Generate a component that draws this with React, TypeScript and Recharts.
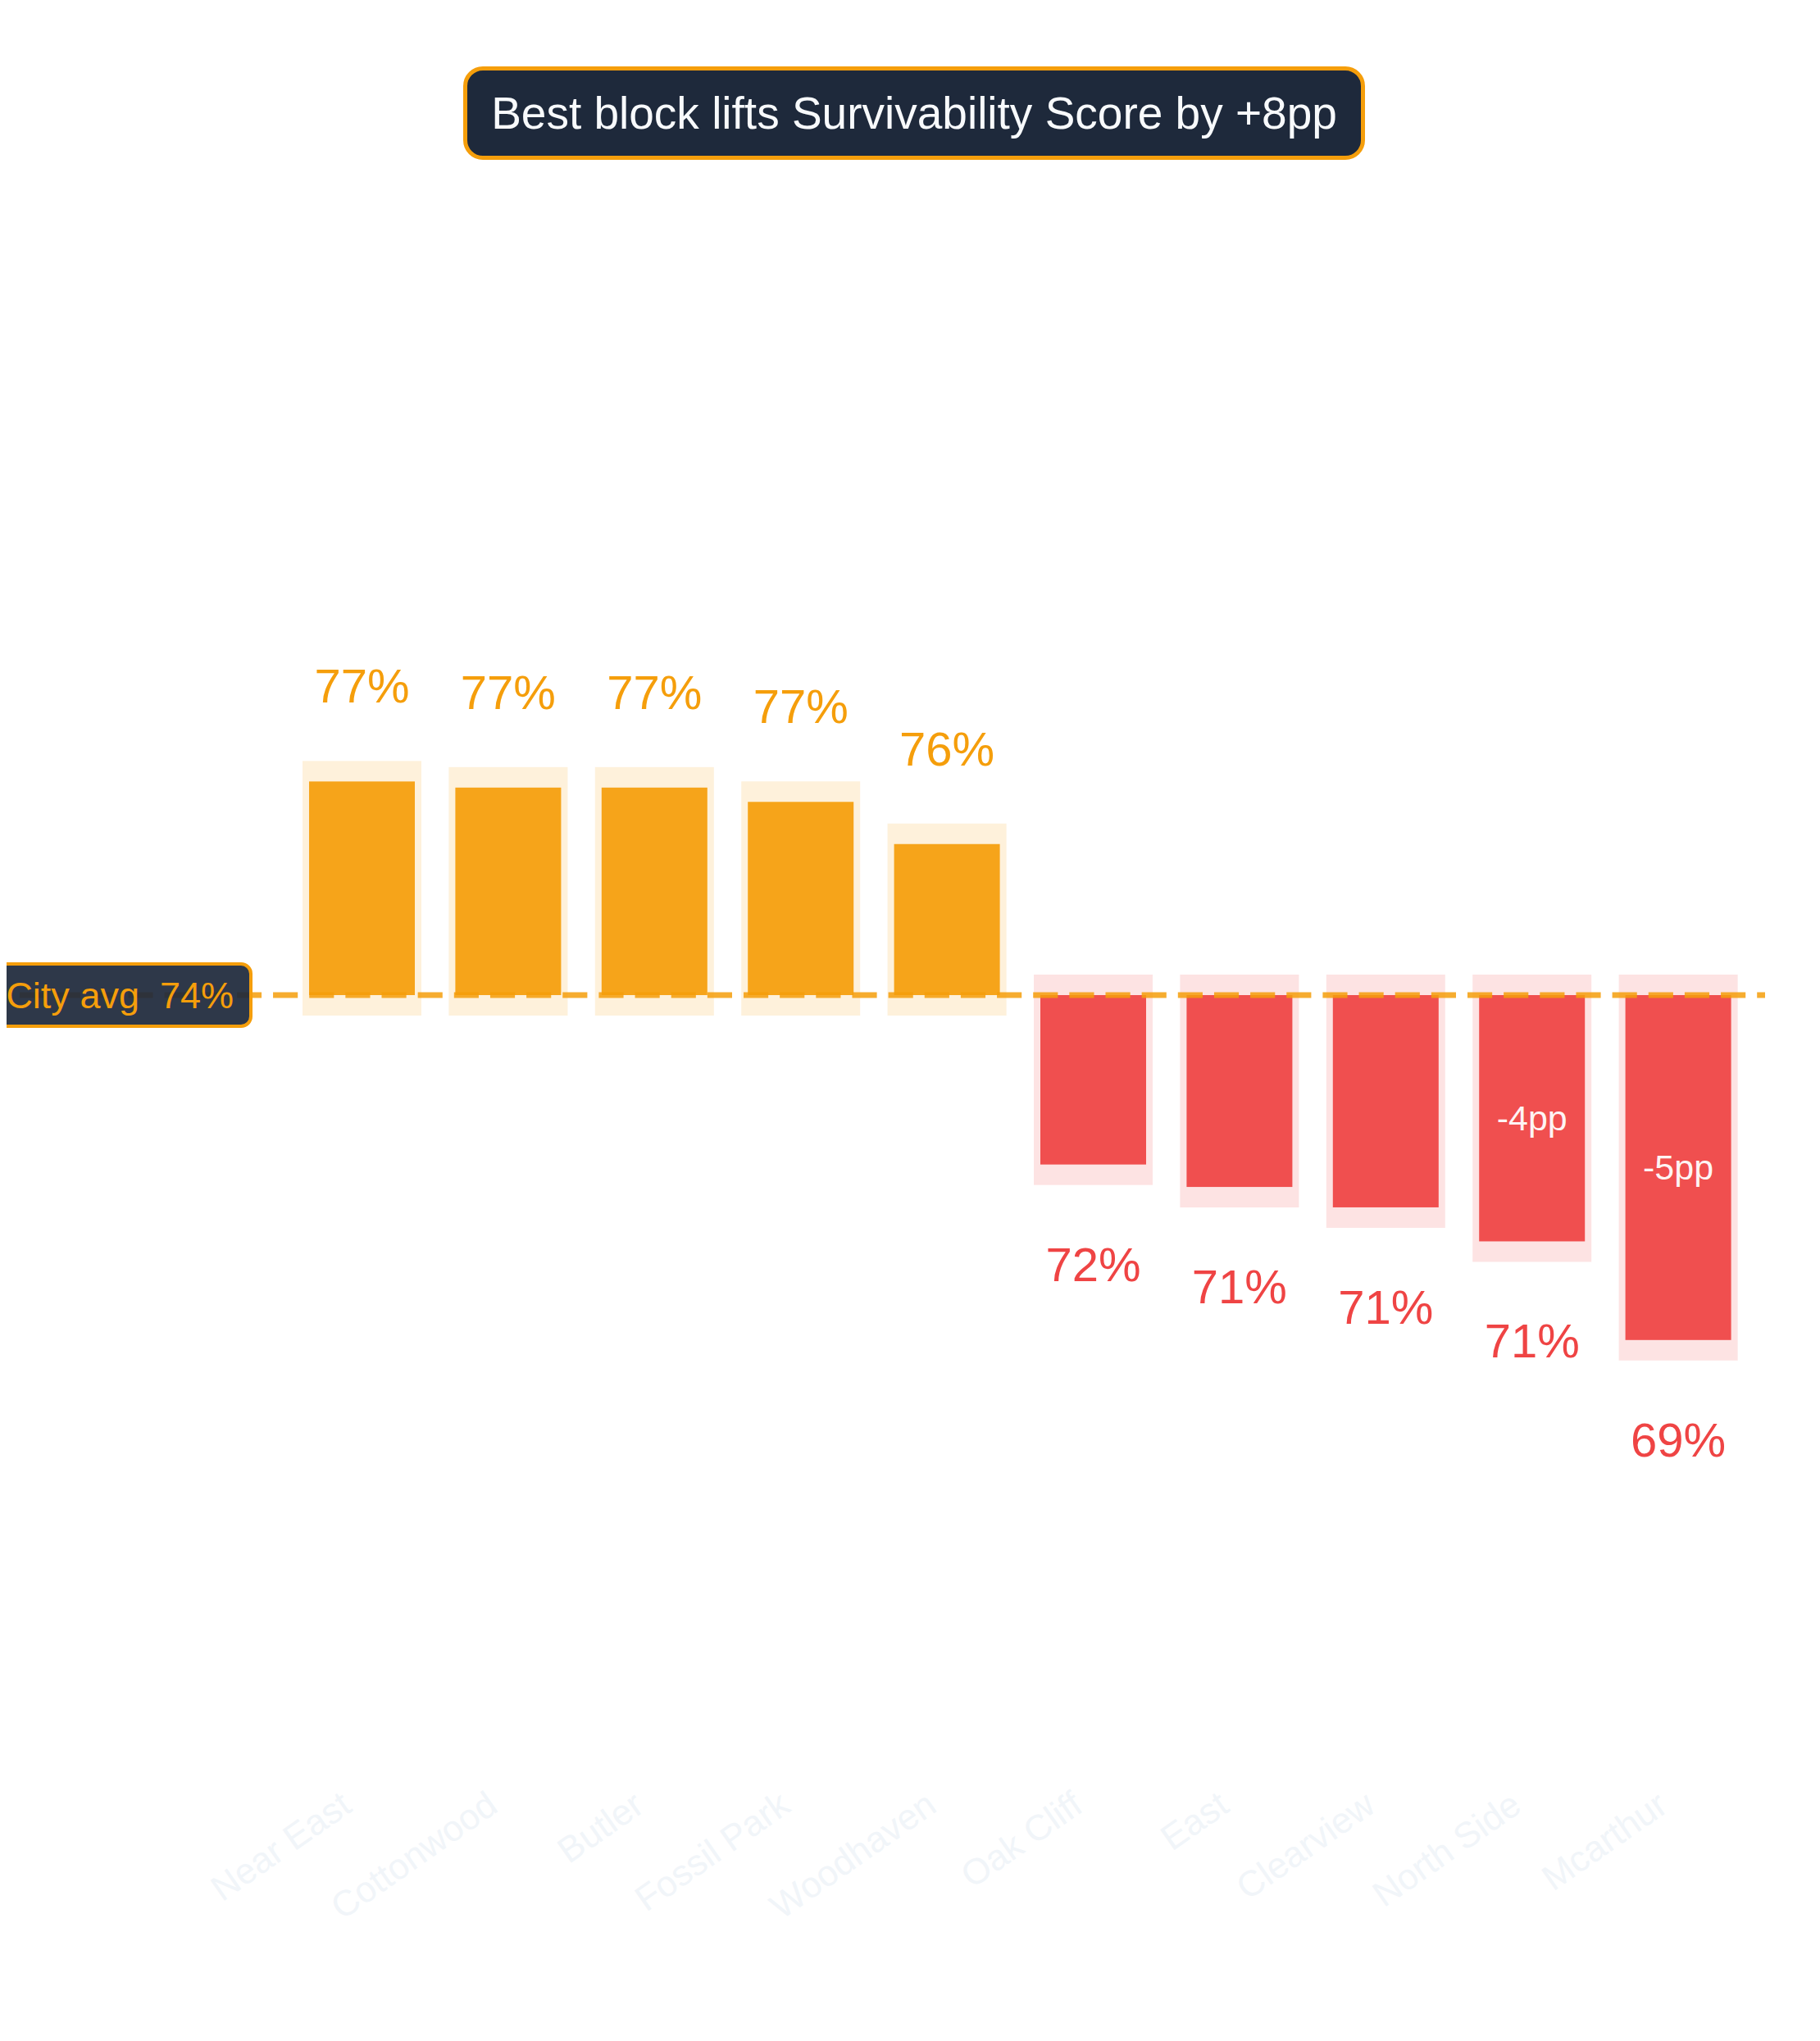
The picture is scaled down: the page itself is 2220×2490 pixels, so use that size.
import React from "react";
import { BarChart, Bar, XAxis, YAxis, ReferenceLine, LabelList } from "recharts";

const BLOCKS = ["Near East", "Cottonwood", "Butler", "Fossil Park", "Woodhaven", "Oak Cliff", "East", "Clearview", "North Side", "Mcarthur"];
const SCORES = [77.34, 77.25, 77.25, 77.04, 76.42, 71.71, 71.38, 71.08, 70.58, 69.13];
const CITY_AVG = 74.2;
const Y_DOMAIN = [-11.5, 11.5];

const FONT = '"Liberation Sans", Arial, Helvetica, sans-serif';
const ORANGE = "#f59e0b";
const RED = "#ef4444";
const NAVY = "#1e293b";

const data = BLOCKS.map((name, i) => ({ name, score: SCORES[i], delta: SCORES[i] - CITY_AVG }));
const best = Math.max(...SCORES);
const worst = Math.min(...SCORES);
const title = `Best block lifts Survivability Score by +${Math.round(best - worst)}pp`;

// bar with a pale halo rect behind it
const HaloBar = (props: any) => {
  const { x, y, width, height, payload } = props;
  const top = Math.min(y, y + height);
  const h = Math.abs(height);
  const up = payload.delta >= 0;
  return (
    <g>
      <rect x={x - 8} y={top - 25} width={width + 16} height={h + 50} fill={up ? ORANGE : RED} fillOpacity={0.15} />
      <rect x={x} y={top} width={width} height={h} fill={up ? ORANGE : RED} fillOpacity={0.93} />
    </g>
  );
};

const ScoreLabel = (props: any) => {
  const { x, y, width, height, value } = props;
  const top = Math.min(y, y + height);
  const bottom = Math.max(y, y + height);
  const up = value >= CITY_AVG;
  return (
    <text
      x={x + width / 2}
      y={up ? top - 96 : bottom + 142}
      textAnchor="middle"
      fontSize={58}
      fontFamily={FONT}
      fill={up ? ORANGE : RED}
    >
      {Math.round(value)}%
    </text>
  );
};

const DeltaLabel = (props: any) => {
  const { x, y, width, height, value } = props;
  if (Math.abs(value) < 3.5) return null;
  const r = Math.round(value);
  return (
    <text
      x={x + width / 2}
      y={y + height / 2}
      textAnchor="middle"
      dominantBaseline="central"
      fontSize={43}
      fontFamily={FONT}
      fill="#fff"
      fillOpacity={0.95}
    >
      {r > 0 ? `+${r}` : r}pp
    </text>
  );
};

// "City avg" tag pinned to the left page edge
const AvgLabel = (props: any) => {
  const { viewBox } = props;
  const y = viewBox.y;
  return (
    <g>
      <rect x={-18} y={y - 38} width={324} height={76} rx={12} fill={NAVY} fillOpacity={0.93} stroke={ORANGE} strokeWidth={4} />
      <text x={285} y={y + 16} textAnchor="end" fontSize={45} fontFamily={FONT} fill={ORANGE} style={{ whiteSpace: "pre" }}>
        {`City avg  ${Math.round(CITY_AVG)}%`}
      </text>
    </g>
  );
};

const BlockTick = (props: any) => {
  const { x, y, payload } = props;
  const ax = x - 10;
  const ay = y + 40;
  return (
    <text x={ax} y={ay} transform={`rotate(-35, ${ax}, ${ay})`} textAnchor="end" fontSize={44} fontFamily={FONT} fill="#f1f5f9">
      {payload.value}
    </text>
  );
};

export default function App() {
  return (
    <div style={{ position: "relative", width: 2220, height: 2490, margin: -8, background: "#fff" }}>
      <BarChart width={2220} height={2490} data={data} margin={{ top: 259.5, right: 67, bottom: 291.5, left: 24 }}>
        <YAxis hide domain={Y_DOMAIN} type="number" />
        <XAxis
          dataKey="name"
          interval={0}
          axisLine={false}
          tickLine={false}
          tickSize={0}
          tickMargin={0}
          height={30}
          padding={{ left: 328, right: 17 }}
          tick={<BlockTick />}
        />
        <ReferenceLine y={0} stroke={ORANGE} strokeOpacity={0.85} strokeWidth={7} strokeDasharray="30.15 14" label={<AvgLabel />} />
        <Bar dataKey="delta" barSize={129} shape={<HaloBar />} isAnimationActive={false}>
          <LabelList dataKey="score" content={<ScoreLabel />} />
          <LabelList dataKey="delta" content={<DeltaLabel />} />
        </Bar>
      </BarChart>
      <div
        style={{
          position: "absolute",
          left: 565,
          top: 81,
          width: 1100,
          height: 114,
          boxSizing: "border-box",
          border: `5px solid ${ORANGE}`,
          borderRadius: 24,
          background: NAVY,
          color: "#f8fafc",
          fontFamily: FONT,
          fontSize: 55,
          display: "flex",
          alignItems: "center",
          justifyContent: "center",
          whiteSpace: "nowrap",
        }}
      >
        {title}
      </div>
    </div>
  );
}
